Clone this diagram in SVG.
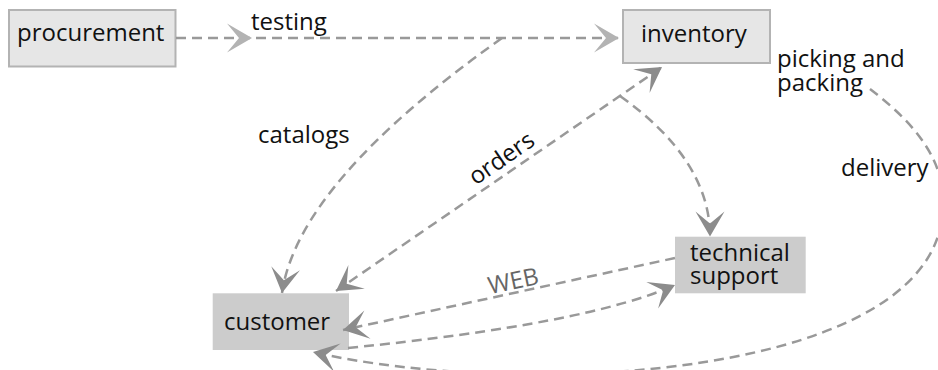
<svg xmlns="http://www.w3.org/2000/svg" width="938" height="370" viewBox="0 0 938 370">
<style>
  .lbl { font-family: "Open Sans", "Liberation Sans", sans-serif; font-size: 24px; fill: #111; }
  .web { fill: #666; }
  .box1 { fill: #e6e6e6; stroke: #b3b3b3; stroke-width: 2; }
  .box2 { fill: #cccccc; stroke: none; }
  .edge { fill: none; stroke: #999; stroke-width: 2.5; stroke-dasharray: 10 6; }
</style>
<defs>
  <marker id="arrL" markerUnits="userSpaceOnUse" viewBox="-26 -15 27 30" refX="0" refY="0" markerWidth="27" markerHeight="30" orient="auto">
    <path d="M0,0 L-25,-14.5 L-13,0 L-25,14.5 Z" fill="#b3b3b3"/>
  </marker>
  <marker id="arr" markerUnits="userSpaceOnUse" viewBox="-26 -15 27 30" refX="0" refY="0" markerWidth="27" markerHeight="30" orient="auto-start-reverse">
    <path d="M0,0 L-25,-14.5 L-13,0 L-25,14.5 Z" fill="#8c8c8c"/>
  </marker>
</defs>
<g id="procurement">
  <rect class="box1" x="9" y="10" width="166.5" height="56.5"/>
  <text class="lbl" x="17" y="41">procurement</text>
</g>
<g id="inventory">
  <rect class="box1" x="623" y="10" width="147" height="53"/>
  <text class="lbl" x="641" y="42">inventory</text>
</g>
<g id="technical-support">
  <rect class="box2" x="675" y="236.7" width="130.7" height="56.6"/>
  <text class="lbl" x="690" y="261">technical</text>
  <text class="lbl" x="690" y="284">support</text>
</g>
<g id="customer">
  <rect class="box2" x="212.7" y="293.3" width="136.3" height="56.7"/>
  <text class="lbl" x="224" y="329.5">customer</text>
</g>
<g id="connectors">
  <path class="edge" d="M176,38 L252,38 L619,38" marker-mid="url(#arrL)" marker-end="url(#arrL)"/>
  <path class="edge" d="M502,38 Q298,183 282,293" marker-end="url(#arr)"/>
  <path class="edge" d="M336,291 L662,67" marker-start="url(#arr)" marker-end="url(#arr)"/>
  <path class="edge" d="M620,96 Q710,160 710,236.5" marker-end="url(#arr)"/>
  <path class="edge" d="M675,258 L343,330" marker-end="url(#arr)"/>
  <path class="edge" d="M348,348 Q588,324 675,285" marker-end="url(#arr)"/>
  <path class="edge" d="M870,89 C900,112 943,150 943,200 C950,380 520,400 313,352" marker-end="url(#arr)"/>
  <text class="lbl" x="251" y="30">testing</text>
  <text class="lbl" x="777" y="67">picking and</text>
  <text class="lbl" x="777" y="91">packing</text>
  <text class="lbl" x="258" y="143">catalogs</text>
  <text class="lbl" x="506" y="165" text-anchor="middle" transform="rotate(-34.5 506 165)">orders</text>
  <text class="lbl" x="841" y="176">delivery</text>
  <text class="lbl web" x="515" y="289" text-anchor="middle" transform="rotate(-12 515 289)">WEB</text>
</g>
</svg>
